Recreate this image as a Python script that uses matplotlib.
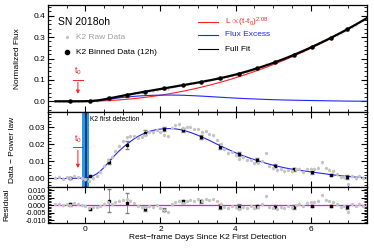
import numpy as np
import matplotlib
matplotlib.use("Agg")
import matplotlib.pyplot as plt
from matplotlib.ticker import MultipleLocator, FormatStrFormatter

plt.rcParams['font.family'] = ['Liberation Sans', 'DejaVu Sans']
plt.rcParams['mathtext.fontset'] = 'custom'
plt.rcParams['mathtext.rm'] = 'Liberation Sans'
plt.rcParams['mathtext.it'] = 'Liberation Sans:italic'

# model grid (rest-frame days since K2 first detection), 0.1 d steps
t_grid = np.round(np.arange(-0.8, 7.55, 0.1), 2)

# power law L ~ (t - t0)^2.08, t0 = -0.2
power_law = [0, 0, 0, 0, 0, 0, 0,
             0.00005, 0.0002, 0.00045, 0.00083, 0.00132, 0.00192, 0.00265, 0.0035, 0.00447, 0.00556, 0.00678,
             0.00812, 0.0096, 0.0112, 0.01292, 0.01478, 0.01677, 0.01888, 0.02113, 0.02351, 0.02602,
             0.02866, 0.03144, 0.03435, 0.03739, 0.04057, 0.04388, 0.04733, 0.05092, 0.05464, 0.05849,
             0.06248, 0.06661, 0.07088, 0.07529, 0.07983, 0.08451, 0.08933, 0.09429, 0.09939, 0.10463,
             0.11001, 0.11553, 0.12119, 0.12699, 0.13293, 0.13901, 0.14523, 0.1516, 0.1581, 0.16475,
             0.17154, 0.17847, 0.18554, 0.19275, 0.20012, 0.20762, 0.21526, 0.22304, 0.231, 0.2391,
             0.2473, 0.25568, 0.2642, 0.27285, 0.28167, 0.29062, 0.2997, 0.30895, 0.31832, 0.32787,
             0.33755, 0.34737, 0.35735, 0.36745, 0.37774, 0.38813]

excess_fit = [0, 0, 0, 0, 0.0001, 0.0001, 0.0001, 0.0002,
              0.0004, 0.0008, 0.0015, 0.0027, 0.0044, 0.0066, 0.0091, 0.0116, 0.0140, 0.0162,
              0.0182, 0.0200, 0.0217, 0.0233, 0.0247, 0.0258, 0.0268, 0.0276, 0.0282, 0.0287,
              0.0290, 0.0292, 0.0293, 0.0293, 0.0291, 0.0288, 0.0283, 0.0277, 0.0270, 0.0262,
              0.0253, 0.0244, 0.0234, 0.0224, 0.0213, 0.0202, 0.0191, 0.0181, 0.0171, 0.0161,
              0.0151, 0.0142, 0.0134, 0.0126, 0.0118, 0.0111, 0.0104, 0.0097, 0.0090, 0.0084,
              0.0078, 0.0073, 0.0068, 0.0063, 0.0059, 0.0055, 0.0051, 0.0048, 0.0045, 0.0042,
              0.0039, 0.0036, 0.0033, 0.0030, 0.0027, 0.0024, 0.0021, 0.0019, 0.0016, 0.0014,
              0.0012, 0.0010, 0.0008, 0.0007, 0.0006, 0.0005]

# raw K2 residuals (data - full fit) on the same grid
raw_resid = [0.0005, 0.0010, -0.0002, 0.0008, 0.0002, 0.0012, 0.0006, -0.0002,
             -0.0008, -0.0020, -0.0015, -0.0010, -0.0005, 0.0010, 0.0020, 0.0008, 0.0022, 0.0030,
             0.0036, 0.0042, 0.0030, 0.0015, -0.0008, -0.0015, -0.0010, -0.0005, -0.0012, -0.0002,
             -0.0020, -0.0035, -0.0045, 0.0005, 0.0022, 0.0030, 0.0015, 0.0025, 0.0035, 0.0028,
             0.0038, 0.0030, 0.0042, 0.0035, 0.0040, 0.0025, 0.0010, -0.0010, -0.0020, -0.0005,
             -0.0015, -0.0025, -0.0010, -0.0018, -0.0008, -0.0022, -0.0012, 0.0005, 0.0060, -0.0010,
             -0.0018, -0.0025, -0.0015, -0.0020, -0.0008, -0.0012, 0.0002, 0.0010, -0.0005, 0.0012,
             0.0018, 0.0022, 0.0030, 0.0065, 0.0035, 0.0028, 0.0020, 0.0005, -0.0010, -0.0008,
             -0.0045, 0.0005, -0.0008, 0.0010, -0.0005, 0.0000]
raw_err = 0.0008

# 12h binned data
t_bin = [-0.40, 0.12, 0.62, 1.10, 1.60, 2.10, 2.59, 3.08, 3.59, 4.09, 4.57, 5.06, 5.55, 6.04, 6.55, 6.97]
bin_flux = [0.0004, 0.0019, 0.0135, 0.0292, 0.0457, 0.0602, 0.0754, 0.0903, 0.1074, 0.1293,
            0.1539, 0.1831, 0.2165, 0.2540, 0.2974, 0.3355]
bin_excess = [0.0004, 0.0014, 0.0098, 0.0196, 0.0268, 0.0288, 0.0284, 0.0245, 0.0186, 0.0143,
              0.0108, 0.0076, 0.0053, 0.0037, 0.0021, 0.0009]
bin_excess_err = [0.0006, 0.0008, 0.0015, 0.0025, 0.0015, 0.0012, 0.0012, 0.0012, 0.0015, 0.0012,
                  0.0010, 0.0010, 0.0010, 0.0008, 0.0008, 0.0010]
bin_resid = [0.0005, -0.0027, 0.0030, 0.0013, -0.0027, -0.0030, 0.0024, 0.0024, -0.0011, -0.0011,
             -0.0009, -0.0010, -0.0011, -0.0005, -0.0007, -0.0015]
bin_resid_err = [0.0008, 0.0008, 0.0075, 0.0067, 0.0012, 0.0012, 0.0012, 0.0012, 0.0015, 0.0018,
                 0.0012, 0.0012, 0.0012, 0.0008, 0.0008, 0.0012]

t0 = -0.2

power_law = np.array(power_law)
excess_fit = np.array(excess_fit)
raw_resid = np.array(raw_resid)
full_fit = power_law + excess_fit
raw_excess = excess_fit + raw_resid
raw_flux = power_law + raw_excess

RED = '#ff2020'
BLUE = '#2424ff'
GRAY = '#c4c4c4'

fig = plt.figure(figsize=(3.74, 2.49), dpi=100)
ax1 = fig.add_axes([0.128, 0.550, 0.853, 0.430])
ax2 = fig.add_axes([0.128, 0.249, 0.853, 0.301], sharex=ax1)
ax3 = fig.add_axes([0.128, 0.104, 0.853, 0.145], sharex=ax1)


def style(ax, ymajor, yminor):
    ax.tick_params(which='both', direction='in', top=True, right=True, labelsize=6, pad=2)
    ax.tick_params(which='major', length=4, width=0.8)
    ax.tick_params(which='minor', length=2, width=0.6)
    ax.xaxis.set_major_locator(MultipleLocator(2))
    ax.xaxis.set_minor_locator(MultipleLocator(0.5))
    ax.yaxis.set_major_locator(MultipleLocator(ymajor))
    ax.yaxis.set_minor_locator(MultipleLocator(yminor))
    for s in ax.spines.values():
        s.set_linewidth(0.9)


def raw(ax, y):
    ax.errorbar(t_grid, y, yerr=raw_err, fmt='o', color=GRAY, ms=2.4, mew=0,
                ecolor=GRAY, elinewidth=0.5, capsize=0)


# --- top: normalized flux
ax1.plot(t_grid, raw_flux, 'o', color=GRAY, ms=1.6, mew=0)
ax1.errorbar(t_bin, bin_flux, yerr=bin_resid_err, fmt='none', ecolor='gray', elinewidth=0.6, capsize=1.2)
ax1.plot(t_grid, power_law, color=RED, lw=0.8)
ax1.plot(t_grid, excess_fit, color=BLUE, lw=0.8)
ax1.plot(t_grid, full_fit, color='black', lw=1.6)
ax1.plot(t_bin, bin_flux, 'o', color='black', ms=2.2)
ax1.set_xlim(-1.0, 7.5)
ax1.set_ylim(-0.05, 0.45)
style(ax1, 0.1, 0.02)
ax1.yaxis.set_major_formatter(FormatStrFormatter('%.1f'))
ax1.tick_params(labelbottom=False)
ax1.set_ylabel('Normalized Flux', fontsize=6)
ax1.yaxis.set_label_coords(-0.085, 0.5)

ax1.text(-0.72, 0.372, 'SN 2018oh', fontsize=7.5, va='center')
ax1.plot([-0.48], [0.300], 'o', color=GRAY, ms=2.4, mew=0)
ax1.text(-0.24, 0.300, 'K2 Raw Data', fontsize=6, color='#a0a0a0', va='center')
ax1.plot([-0.48], [0.229], 'o', color='black', ms=3)
ax1.text(-0.24, 0.229, 'K2 Binned Data (12h)', fontsize=6, color='black', va='center')

ax1.plot([3.0, 3.52], [0.371, 0.371], color=RED, lw=0.8)
ax1.text(3.71, 0.371, r'L$\propto$(t-t$_0$)$^{2.08}$', fontsize=6, color=RED, va='center')
ax1.plot([3.0, 3.52], [0.31, 0.31], color=BLUE, lw=0.8)
ax1.text(3.71, 0.31, 'Flux Excess', fontsize=6, color=BLUE, va='center')
ax1.plot([3.0, 3.52], [0.244, 0.244], color='black', lw=0.8)
ax1.text(3.71, 0.244, 'Full Fit', fontsize=6, color='black', va='center')

ax1.text(t0, 0.112, r't$_0$', fontsize=6.5, color=RED, ha='center', va='bottom')
ax1.plot([t0 - 0.13, t0 + 0.13], [0.102, 0.102], color=RED, lw=0.7)
ax1.annotate('', xy=(t0, 0.022), xytext=(t0, 0.102),
             arrowprops=dict(arrowstyle='-|>', color=RED, lw=0.7, mutation_scale=5))

# --- middle: data minus power law
ax2.axvspan(-0.08, 0.1, color='#2e97e0', lw=0)
ax2.axvline(0.01, color='#0c2d72', lw=1.2)
raw(ax2, raw_excess)
ax2.errorbar(t_bin, bin_excess, yerr=bin_excess_err, fmt='none', ecolor='gray', elinewidth=0.6, capsize=1.2)
ax2.plot(t_grid, excess_fit, color=BLUE, lw=0.8)
ax2.plot(t_bin, bin_excess, 's', color='black', ms=2)
ax2.set_ylim(-0.005, 0.039)
style(ax2, 0.01, 0.002)
ax2.yaxis.set_major_formatter(FormatStrFormatter('%.2f'))
ax2.tick_params(labelbottom=False)
ax2.set_ylabel('Data \u2212 Power law', fontsize=6)
ax2.yaxis.set_label_coords(-0.10, 0.5)
ax2.text(0.12, 0.0345, 'K2 first detection', fontsize=4.8, va='center')

ax2.text(t0, 0.0195, r't$_0$', fontsize=6.5, color=RED, ha='center', va='bottom')
ax2.plot([t0 - 0.13, t0 + 0.13], [0.0182, 0.0182], color=RED, lw=0.7)
ax2.annotate('', xy=(t0, 0.0045), xytext=(t0, 0.0182),
             arrowprops=dict(arrowstyle='-|>', color=RED, lw=0.7, mutation_scale=5))

# --- bottom: residual
raw(ax3, raw_resid)
ax3.errorbar(t_bin, bin_resid, yerr=bin_resid_err, fmt='none', ecolor='gray', elinewidth=0.6, capsize=1.2)
ax3.hlines(0, t_grid[0], 7.45, color='magenta', lw=0.9)
ax3.plot(t_bin, bin_resid, 's', color='black', ms=2)
ax3.set_ylim(-0.012, 0.012)
style(ax3, 0.005, 0.001)
ax3.yaxis.set_major_formatter(FormatStrFormatter('%.3f'))
ax3.tick_params(axis='y', labelsize=5.2, pad=1.5)
ax3.set_ylabel('Residual', fontsize=6)
ax3.yaxis.set_label_coords(-0.118, 0.5)
ax3.set_xlabel('Rest\u2212frame Days Since K2 First Detection', fontsize=6, labelpad=1)

fig.savefig('out.png', dpi=100)
